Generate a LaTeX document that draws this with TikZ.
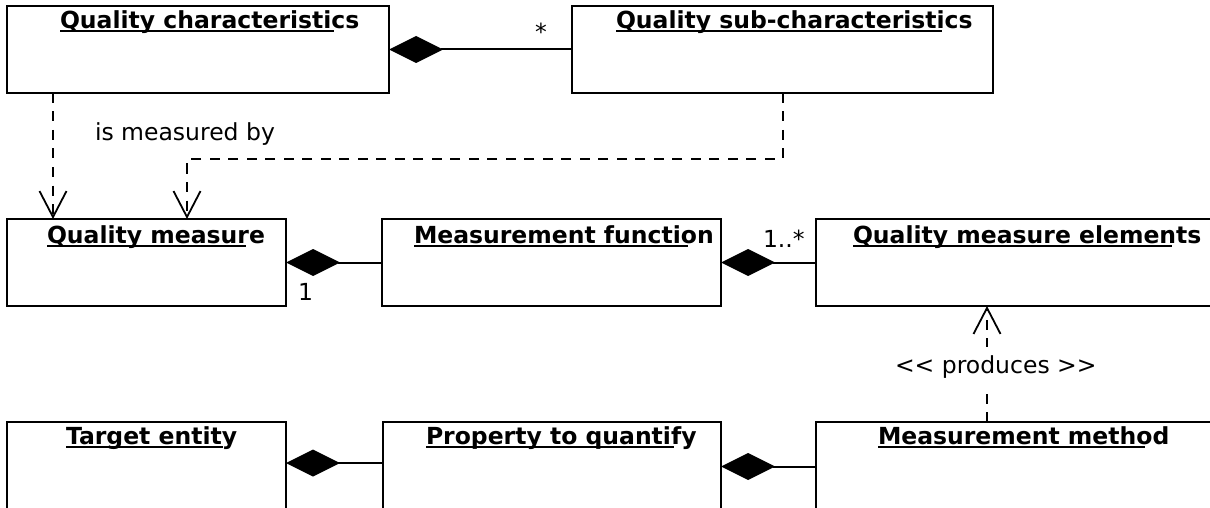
\documentclass[tikz,border=0pt]{standalone}
\usepackage{fontspec}
\setmainfont{DejaVu Sans}
\usetikzlibrary{arrows.meta,calc}
\tikzset{
  classbox/.style={draw, line width=2pt, inner sep=0, outer sep=0, minimum height=87pt},
  title/.style={anchor=base west, inner sep=0, outer sep=0, font=\fontsize{23.5}{28}\selectfont\bfseries},
  uline/.style={line width=2pt},
  lbl/.style={anchor=base west, inner sep=0, outer sep=0, font=\fontsize{23.5}{28}\selectfont},
  comp/.style={line width=2pt, {Diamond[length=54pt,width=27pt]}-},
  dep/.style={line width=2pt, dash pattern=on 10pt off 8.5pt,
    -{Straight Barb[length=26pt,width=27pt,line width=1.8pt]}},
}
% class name, printed bold and underlined
\newcommand\classtitle[3]{%
  \node[title] (#1) at (#2) {#3};
  \draw[uline] ($(#1.base west)+(0,2.5)$) -- ($(#1.base west)!0.915!(#1.base east)+(0,2.5)$);
}
\begin{document}
\begin{tikzpicture}[x=1pt,y=-1pt]
\clip (0,0) rectangle (1210,508);

% classes
\node[classbox, minimum width=382pt] (qc)  at (198,49.5) {};
\node[classbox, minimum width=421pt] (qsc) at (782.5,49.5) {};
\node[classbox, minimum width=279pt] (qm)  at (146.5,262.5) {};
\node[classbox, minimum width=339pt] (mf)  at (551.5,262.5) {};
\node[classbox, minimum width=398pt] (qme) at (1015,262.5) {};
\node[classbox, minimum width=279pt, minimum height=89pt] (te) at (146.5,466.5) {};
\node[classbox, minimum width=338pt, minimum height=89pt] (pq) at (552,466.5) {};
\node[classbox, minimum width=398pt, minimum height=89pt] (mm) at (1015,466.5) {};

\classtitle{tqc}{60,29}{Quality characteristics}
\classtitle{tqsc}{616,29}{Quality sub-characteristics}
\classtitle{tqm}{47,243}{Quality measure}
\classtitle{tmf}{414,243}{Measurement function}
\classtitle{tqme}{853,243}{Quality measure elements}
\classtitle{tte}{66,444}{Target entity}
\classtitle{tpq}{426,444}{Property to quantify}
\classtitle{tmm}{878,444}{Measurement method}

% compositions
\draw[comp] (qc.east) -- (qsc.west);
\node[lbl] (star) at (535,41) {*};
\draw[comp] (qm.east) -- (mf.west);
\node[lbl] (one) at (298,300) {1};
\draw[comp] (mf.east) -- (qme.west);
\node[lbl] (onemany) at (763,247) {1..*};
\draw[comp] ([yshift=3.5pt]te.east) -- ([yshift=3.5pt]pq.west);
\draw[comp] (pq.east) -- (mm.west);

% dependencies
\coordinate (bend) at (187,159);
\draw[dep] ([xshift=46pt]qc.south west) -- ([xshift=46pt]qm.north west);
\draw[dep] (qsc.south) |- (bend) -- ([xshift=180pt]qm.north west);
\node[lbl] (measby) at (95,141) {is measured by};

\draw[dep] ([xshift=171pt]mm.north west) -- ([xshift=171pt]qme.south west);
\node[lbl, fill=white, inner xsep=2pt, inner ysep=8pt] (prod) at (893,373)
  {<\kern0pt< produces >\kern0pt>};
\end{tikzpicture}
\end{document}
